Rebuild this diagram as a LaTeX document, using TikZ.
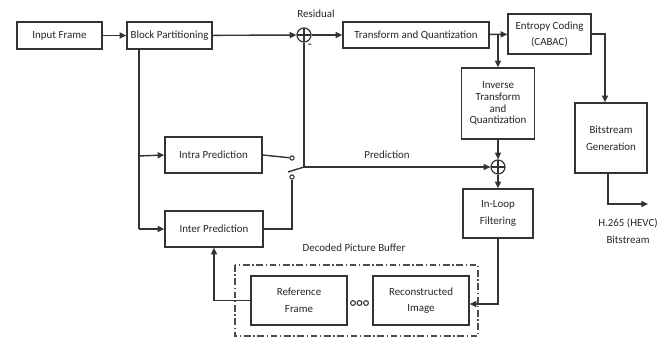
\documentclass[tikz,border=0pt]{standalone}
\usepackage{fontspec}
\setmainfont{Carlito}
\usetikzlibrary{arrows.meta, calc, positioning}

\begin{document}
\begin{tikzpicture}[x=0.75pt, y=-0.75pt,
    >={Triangle[length=5pt, width=4.5pt]},
    wire/.style={draw=black!80, line width=1.05pt},
    blockbox/.style={draw=black!80, line width=1.05pt, fill=white, text=black!85,
        font=\fontsize{8.2}{9}\selectfont, align=center, inner sep=1pt},
    tagtext/.style={text=black!85, font=\fontsize{8.2}{9}\selectfont, align=center, inner sep=1pt},
    sumnode/.style={circle, draw=black!80, line width=0.9pt, minimum size=10.5pt, inner sep=0pt,
        path picture={\draw[black!80, line width=0.8pt]
            (path picture bounding box.north) -- (path picture bounding box.south)
            (path picture bounding box.west) -- (path picture bounding box.east);}},
    contact/.style={circle, draw=black!80, line width=0.8pt, fill=white, minimum size=3.2pt, inner sep=0pt}]

    \useasboundingbox (0,0) rectangle (670,338);

    % =================================================================
    % 1. MAIN BLOCKS
    % =================================================================
    \node[blockbox, minimum width=63.75pt, minimum height=20.25pt] (inframe) at (59.5,35.5) {Input Frame};
    \node[blockbox, minimum width=63.75pt, minimum height=20.25pt] (blockpart) at (169.5,35.5) {Block Partitioning};
    \node[blockbox, minimum width=109.5pt, minimum height=19.5pt] (transq) at (416,35) {Transform and Quantization};
    \node[blockbox, minimum width=62.25pt, minimum height=30pt, font=\fontsize{8.2}{12}\selectfont] (entropy) at (549.5,34) {Entropy Coding\\(CABAC)};
    \node[blockbox, minimum width=54.75pt, minimum height=53.25pt, font=\fontsize{8.2}{8.8}\selectfont] (invtq) at (498,103.5) {Inverse\\Transform\\and\\Quantization};
    \node[blockbox, minimum width=54pt, minimum height=52.5pt, font=\fontsize{8.2}{12.5}\selectfont] (bitgen) at (611,138) {Bitstream\\Generation};
    \node[blockbox, minimum width=72.75pt, minimum height=27pt] (intra) at (213.5,155) {Intra Prediction};
    \node[blockbox, minimum width=73.5pt, minimum height=27pt] (inter) at (214,229) {Inter Prediction};
    \node[blockbox, minimum width=52.5pt, minimum height=36.75pt, font=\fontsize{8.2}{12.5}\selectfont] (inloop) at (498,213.5) {In-Loop\\Filtering};

    % Decoded picture buffer
    \draw[black!70, line width=0.9pt, dash pattern=on 5pt off 2pt on 1pt off 2pt] (235,265) rectangle (478,336);
    \node[blockbox, minimum width=72pt, minimum height=36.75pt, font=\fontsize{8.2}{12.5}\selectfont] (refframe) at (299,300.5) {Reference\\Frame};
    \node[blockbox, minimum width=72pt, minimum height=36.75pt, font=\fontsize{8.2}{12.5}\selectfont] (recon) at (421,300.5) {Reconstructed\\Image};
    \foreach \i in {0,1,2}
        \node[contact, minimum size=3.6pt] (dot\i) at (353+6.5*\i,303) {};

    % =================================================================
    % 2. SUMS, SWITCH AND HELPER POINTS
    % =================================================================
    \node[sumnode] (sumres) at (304,35) {};
    \node[sumnode] (sumrec) at (498,167) {};
    \node[contact] (swintra) at (292,158) {};
    \node[contact] (swinter) at (292,177) {};
    \coordinate (swpivot) at (304,167);
    \coordinate (blade) at (288,172);

    \coordinate (branch) at (498,35);
    \coordinate (ebend) at (605,34);
    \coordinate (outbend) at (608,204);
    \coordinate (outend) at (648,204);
    \coordinate (vsplit) at (139,156);
    \coordinate (vcorner) at (139,229);
    \coordinate (loopbend) at (498,304);

    % =================================================================
    % 3. CONNECTORS
    % =================================================================
    \draw[wire, ->] (inframe) -- (blockpart);
    \draw[wire, ->] (blockpart) -- (sumres);
    \draw[wire, ->] (sumres) -- (transq);
    \draw[wire, ->] (transq) -- (entropy);
    \draw[wire, ->] (branch) -- (invtq);
    \draw[wire, ->] (entropy.east |- ebend) -- (ebend) -- (ebend |- bitgen.north);
    \draw[wire, ->] (outbend |- bitgen.south) -- (outbend) -- (outend);

    \draw[wire] (blockpart.south -| vsplit) -- (vcorner);
    \draw[wire, ->] (vsplit) -- (intra.west);
    \draw[wire, ->] (vcorner) -- (inter.west);

    \draw[wire] (intra.east) -- (swintra);
    \draw[wire] (inter.east) -| (swinter);
    \draw[wire] (sumres) -- (swpivot);
    \draw[wire] (blade) -- (swpivot);
    \draw[wire, ->] (swpivot) -- (sumrec);

    \draw[wire, ->] (invtq) -- (sumrec);
    \draw[wire, ->] (sumrec) -- (inloop);
    \draw[wire, ->] (inloop.south) -- (loopbend) -- (loopbend -| recon.east);
    \draw[wire, ->] (refframe.west) -| (inter.south);

    % =================================================================
    % 4. LABELS
    % =================================================================
    \node[tagtext] (lblres) at (316,14) {Residual};
    \node[tagtext, font=\fontsize{10}{10}\selectfont] (lblminus) at (310,46) {-};
    \node[tagtext] (lblpred) at (387,155) {Prediction};
    \node[tagtext] (lbldpb) at (354,248) {Decoded Picture Buffer};
    \node[tagtext, font=\fontsize{8.2}{12.75}\selectfont] (lblout) at (628,231.5) {H.265 (HEVC)\\Bitstream};

\end{tikzpicture}
\end{document}
